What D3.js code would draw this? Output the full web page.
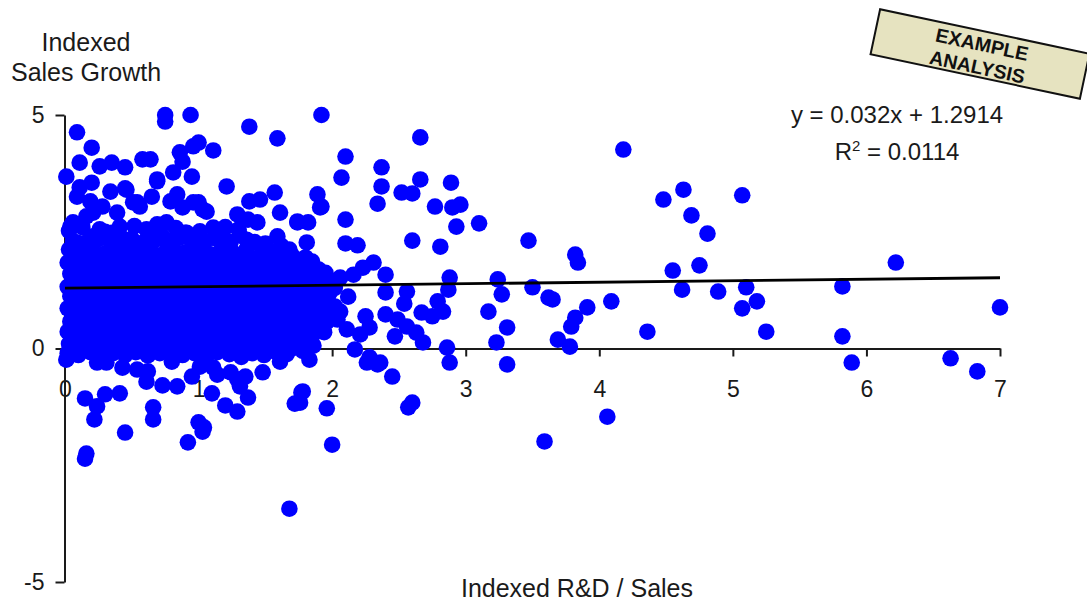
<!DOCTYPE html>
<html>
<head>
<meta charset="utf-8">
<script src="https://cdn.jsdelivr.net/npm/d3@7"></script>
<style>
  html, body { margin: 0; padding: 0; background: #fff; }
  svg { display: block; font-family: "Liberation Sans", Arial, sans-serif; }
</style>
</head>
<body>
<svg id="chart" width="1087" height="601"></svg>
<script>
// Indexed R&D / Sales (x) versus Indexed Sales Growth (y), one point per firm.

// Dense core of firms with low R&D intensity
const coreFirms = [
  [0.03,2.12],[0.12,2.05],[0.2,2.15],[0.29,2.02],[0.38,2.1],[0.47,2.18],[0.55,2.04],[0.64,2.12],[0.72,2.0],[0.81,2.14],[0.9,2.06],[0.99,2.16],[1.08,2.02],[1.17,2.1],[1.26,2.05],[1.36,2.13],[1.46,1.98],[1.55,2.08],
  [0.02,1.84],[0.1,1.9],[0.19,1.8],[0.27,1.88],[0.36,1.82],[0.45,1.92],[0.53,1.78],[0.62,1.86],[0.71,1.8],[0.79,1.9],[0.88,1.83],[0.97,1.76],[1.05,1.88],[1.14,1.8],[1.23,1.92],[1.31,1.84],[1.4,1.78],[1.49,1.88],[1.58,1.82],[1.67,1.9],[1.76,1.8],[1.85,1.86],
  [0.04,1.6],[0.13,1.55],[0.22,1.65],[0.3,1.58],[0.39,1.62],[0.48,1.54],[0.57,1.66],[0.65,1.6],[0.74,1.52],[0.83,1.63],[0.92,1.57],[1.0,1.66],[1.09,1.55],[1.18,1.62],[1.27,1.52],[1.35,1.64],[1.44,1.58],[1.53,1.5],[1.62,1.62],[1.7,1.55],[1.79,1.64],[1.88,1.56],[1.95,1.62],
  [0.02,1.32],[0.11,1.38],[0.19,1.3],[0.28,1.4],[0.37,1.34],[0.46,1.28],[0.54,1.4],[0.63,1.33],[0.72,1.38],[0.8,1.28],[0.89,1.36],[0.98,1.42],[1.06,1.3],[1.15,1.37],[1.24,1.32],[1.33,1.4],[1.41,1.28],[1.5,1.36],[1.59,1.3],[1.68,1.4],[1.76,1.33],[1.85,1.28],[1.94,1.36],[2.02,1.3],
  [0.04,1.12],[0.12,1.05],[0.21,1.14],[0.3,1.08],[0.38,1.16],[0.47,1.04],[0.56,1.12],[0.65,1.06],[0.73,1.15],[0.82,1.08],[0.91,1.02],[1.0,1.12],[1.08,1.06],[1.17,1.15],[1.26,1.04],[1.35,1.1],[1.43,1.16],[1.52,1.05],[1.61,1.12],[1.7,1.06],[1.78,1.14],[1.87,1.04],[1.96,1.1],
  [0.02,0.86],[0.1,0.82],[0.19,0.9],[0.28,0.8],[0.36,0.88],[0.45,0.84],[0.54,0.92],[0.62,0.8],[0.71,0.86],[0.8,0.9],[0.88,0.78],[0.97,0.86],[1.06,0.82],[1.15,0.9],[1.23,0.8],[1.32,0.87],[1.41,0.83],[1.5,0.9],[1.58,0.79],[1.67,0.86],[1.76,0.82],[1.84,0.9],[1.93,0.8],
  [0.04,0.58],[0.13,0.64],[0.22,0.56],[0.3,0.62],[0.39,0.55],[0.48,0.65],[0.56,0.58],[0.65,0.62],[0.74,0.54],[0.83,0.63],[0.91,0.57],[1.0,0.6],[1.09,0.66],[1.18,0.55],[1.26,0.62],[1.35,0.58],[1.44,0.64],[1.52,0.54],[1.61,0.6],[1.7,0.65],[1.79,0.56],[1.87,0.62],[1.96,0.57],
  [0.02,0.36],[0.11,0.3],[0.2,0.38],[0.28,0.32],[0.37,0.4],[0.46,0.3],[0.54,0.36],[0.63,0.33],[0.72,0.4],[0.8,0.3],[0.89,0.36],[0.98,0.32],[1.07,0.38],[1.15,0.3],[1.24,0.36],[1.33,0.4],[1.41,0.32],[1.5,0.36],[1.59,0.3],[1.68,0.38],[1.76,0.33],[1.85,0.28],[1.94,0.35],
  [0.03,0.1],[0.12,0.06],[0.21,0.14],[0.29,0.08],[0.38,0.12],[0.47,0.04],[0.55,0.11],[0.64,0.07],[0.73,0.14],[0.81,0.05],[0.9,0.1],[0.99,0.13],[1.08,0.04],[1.16,0.1],[1.25,0.08],[1.34,0.14],[1.42,0.05],[1.51,0.1],[1.6,0.12],[1.69,0.04],[1.78,0.1],[1.86,0.06],
  [0.02,-0.1],[0.1,-0.14],[0.19,-0.08],[0.27,-0.16],[0.36,-0.1],[0.45,-0.14],[0.53,-0.08],[0.62,-0.15],[0.71,-0.1],[0.8,-0.06],[0.88,-0.14],[0.97,-0.1],[1.06,-0.16],[1.14,-0.08],[1.23,-0.12],[1.32,-0.18],[1.4,-0.1],[1.49,-0.14],[1.58,-0.08],[1.66,-0.12]
];

// More firms packed between the core rows
const coreFirmsB = [
  [0.06,2.3],[0.15,2.26],[0.25,2.34],[0.34,2.28],[0.43,2.36],[0.52,2.25],[0.68,2.33],[0.77,2.22],[0.86,2.38],[0.95,2.3],[1.13,2.35],[1.22,2.2],[1.31,2.42],[1.42,2.28],[1.62,2.2],
  [0.03,2.52],[0.13,2.6],[0.26,2.55],[0.35,2.48],[0.52,2.62],[0.7,2.5],[0.83,2.58],[1.2,2.6],[1.3,2.55],
  [0.07,1.97],[0.16,2.0],[0.24,1.94],[0.33,1.99],[0.42,1.95],[0.5,2.02],[0.59,1.94],[0.68,1.98],[0.76,1.93],[0.85,2.01],[0.94,1.96],[1.03,1.92],[1.12,2.0],[1.21,1.95],[1.3,1.99],[1.39,1.92],[1.5,2.0],[1.6,1.94],[1.7,1.99],[1.8,1.95],
  [0.07,1.72],[0.15,1.68],[0.24,1.75],[0.33,1.7],[0.41,1.76],[0.5,1.68],[0.59,1.73],[0.67,1.7],[0.76,1.77],[0.85,1.69],[0.94,1.74],[1.02,1.7],[1.11,1.76],[1.2,1.68],[1.28,1.73],[1.37,1.7],[1.46,1.75],[1.55,1.67],[1.63,1.73],[1.72,1.7],[1.81,1.74],[1.9,1.69],
  [0.06,1.47],[0.15,1.44],[0.24,1.5],[0.33,1.46],[0.42,1.48],[0.5,1.43],[0.59,1.5],[0.68,1.46],[0.77,1.44],[0.86,1.5],[0.94,1.46],[1.03,1.49],[1.12,1.43],[1.21,1.48],[1.3,1.45],[1.38,1.5],[1.47,1.44],[1.56,1.48],[1.65,1.45],[1.74,1.5],[1.82,1.44],[1.91,1.48],[1.99,1.45],
  [0.06,1.22],[0.15,1.2],[0.24,1.25],[0.32,1.18],[0.41,1.23],[0.5,1.2],[0.59,1.26],[0.67,1.19],[0.76,1.23],[0.85,1.2],[0.94,1.25],[1.02,1.18],[1.11,1.22],[1.2,1.25],[1.29,1.19],[1.37,1.23],[1.46,1.2],[1.55,1.25],[1.64,1.18],[1.72,1.22],[1.81,1.2],[1.9,1.24],[1.98,1.19],
  [0.06,0.97],[0.15,0.95],[0.23,1.0],[0.32,0.94],[0.41,0.98],[0.5,0.95],[0.58,1.0],[0.67,0.94],[0.76,0.98],[0.85,0.96],[0.93,0.92],[1.02,0.98],[1.11,0.95],[1.19,1.0],[1.28,0.94],[1.37,0.98],[1.46,0.96],[1.54,1.0],[1.63,0.93],[1.72,0.97],[1.8,0.95],[1.89,0.99],[1.98,0.95],
  [0.07,0.72],[0.15,0.7],[0.24,0.75],[0.33,0.69],[0.42,0.73],[0.51,0.7],[0.59,0.76],[0.68,0.69],[0.77,0.72],[0.86,0.7],[0.95,0.75],[1.03,0.68],[1.12,0.73],[1.21,0.71],[1.3,0.75],[1.39,0.7],[1.47,0.73],[1.56,0.69],[1.65,0.74],[1.74,0.71],[1.82,0.75],[1.91,0.69],[2.0,0.72],
  [0.06,0.47],[0.15,0.45],[0.24,0.5],[0.33,0.44],[0.41,0.48],[0.5,0.46],[0.59,0.5],[0.68,0.44],[0.76,0.47],[0.85,0.45],[0.94,0.5],[1.03,0.44],[1.11,0.48],[1.2,0.46],[1.29,0.5],[1.38,0.45],[1.46,0.48],[1.55,0.44],[1.64,0.49],[1.72,0.46],[1.81,0.5],[1.9,0.44],
  [0.07,0.22],[0.16,0.2],[0.25,0.25],[0.33,0.19],[0.42,0.23],[0.51,0.2],[0.6,0.25],[0.68,0.19],[0.77,0.22],[0.86,0.2],[0.95,0.24],[1.03,0.18],[1.12,0.22],[1.21,0.2],[1.3,0.25],[1.38,0.2],[1.47,0.22],[1.56,0.18],[1.64,0.23],[1.73,0.2],[1.82,0.24],
  [0.06,-0.02],[0.15,0.0],[0.24,-0.04],[0.32,0.01],[0.41,-0.03],[0.5,0.0],[0.58,-0.04],[0.67,0.01],[0.76,-0.02],[0.84,0.0],[0.93,-0.03],[1.02,0.01],[1.1,-0.04],[1.19,0.0],[1.28,-0.03],[1.36,0.01],[1.45,-0.02],[1.54,0.0],[1.62,-0.04],[1.7,0.0],[1.78,-0.05]
];

// Low R&D firms with strong growth
const highGrowthFirms = [
  [0.09,4.63],[0.2,4.3],[0.58,4.05],[0.75,5.0],[0.75,4.86],[0.94,5.0],[1.38,4.75],[1.59,4.5],[1.92,5.0],
  [0.11,3.98],[0.01,3.68],[0.26,3.9],[0.35,3.98],[0.45,3.88],[0.11,3.45],[0.2,3.55],[0.34,3.36],[0.45,3.43],
  [0.09,3.25],[0.19,3.15],[0.28,3.04],[0.51,3.13],[0.56,3.04],[0.69,3.62],[0.65,3.25],[0.81,3.77],[0.86,4.2],
  [0.96,4.33],[1.0,4.41],[1.11,4.24],[0.88,4.0],[0.95,3.68],[0.84,3.3],[0.88,3.02],[0.96,3.13],[0.79,3.15],
  [1.0,3.13],[1.06,2.93],[1.21,3.47],[0.64,4.05],[0.69,3.58],[0.04,2.61],[0.16,2.83],[0.39,2.91],[0.21,2.4],
  [0.09,2.27],[0.41,2.61],[0.61,2.55],[0.76,2.7],[0.9,2.48],[1.38,3.15],[1.46,3.19],[1.57,3.34],[1.29,2.87],
  [1.37,2.76],[1.44,2.7],[1.61,2.91],[1.89,3.3],[1.91,3.02],[1.74,2.7],[1.82,2.7],[1.59,2.4],[1.81,2.27],
  [0.69,2.66],[0.73,2.4],[0.91,2.48],[1.01,2.51],[1.11,2.59],[1.18,2.44],[1.36,2.33],[1.68,2.12],[0.46,3.4],
  [0.54,3.13],[1.03,2.98],[0.21,2.91],[0.2,2.38],[0.06,2.7],[1.74,2.72],[1.92,3.04],[0.3,2.5],[0.5,2.35],
  [0.82,2.32],[1.24,2.28],[1.5,2.25],[0.6,2.3],[1.05,2.3],[0.38,2.3]
];

// Low R&D firms with shrinking sales
const decliningFirms = [
  [1.96,-1.28],[2.0,-2.06],[2.57,-1.26],[2.6,-1.16],[2.45,-0.6],[1.78,-0.92],[1.76,-1.16],[0.15,-1.07],
  [0.24,-1.24],[0.3,-0.98],[0.41,-0.96],[0.22,-1.52],[0.45,-1.8],[0.16,-2.25],[0.15,-2.36],[0.66,-1.26],
  [0.66,-1.52],[0.92,-2.01],[1.0,-1.58],[1.04,-1.69],[1.03,-1.78],[1.1,-0.96],[1.2,-1.22],[1.29,-1.35],
  [1.37,-1.05],[1.72,-1.18],[1.77,-0.94],[1.68,-3.43],[0.61,-0.71],[0.73,-0.79],[0.84,-0.81],[0.95,-0.6],
  [1.31,-0.81],[1.35,-0.6],[1.29,-0.66],[1.14,-0.56],[1.48,-0.51],[0.43,-0.41],[0.54,-0.45],[0.62,-0.49],
  [1.61,-0.28],[1.83,-0.24],[0.01,-0.24],[0.24,-0.3],[0.31,-0.3],[0.8,-0.28],[1.01,-0.39],[1.11,-0.41],
  [1.24,-0.51],[2.34,-0.34],[2.26,-0.3]
];

// Firms with above-average R&D intensity
const highRdFirms = [
  [2.66,4.52],[4.18,4.26],[4.48,3.19],[2.1,4.11],[2.37,3.88],[2.07,3.66],[2.37,3.47],[2.66,3.62],[2.89,3.55],
  [2.52,3.34],[2.6,3.32],[2.34,3.1],[2.77,3.04],[2.9,3.02],[2.96,3.08],[2.93,2.61],[3.1,2.68],[2.1,2.76],
  [2.6,2.31],[2.81,2.18],[3.47,2.31],[2.1,2.25],[2.19,2.21],[3.82,2.01],[3.84,1.84],[2.31,1.84],[2.23,1.73],
  [2.06,1.52],[2.16,1.58],[2.4,1.58],[2.88,1.52],[3.24,1.48],[2.4,1.2],[2.56,1.22],[2.87,1.26],[3.27,1.16],
  [3.5,1.31],[3.62,1.09],[3.65,1.05],[4.09,1.01],[2.79,1.01],[2.54,0.96],[2.12,1.11],[2.02,0.9],[3.91,0.88],
  [3.17,0.79],[2.67,0.77],[2.75,0.69],[2.83,0.79],[2.4,0.73],[2.49,0.62],[2.25,0.69],[3.82,0.66],[3.79,0.47],
  [4.36,0.36],[3.31,0.45],[2.56,0.47],[2.28,0.45],[2.11,0.41],[2.21,0.3],[2.47,0.26],[2.63,0.34],[2.68,0.13],
  [3.69,0.19],[3.78,0.04],[3.23,0.13],[2.86,0.02],[2.88,-0.3],[3.31,-0.34],[2.17,-0.02],[2.28,-0.19],[2.36,-0.3],
  [2.06,0.79],[2.04,0.62],
  [4.63,3.4],[4.69,2.85],[4.81,2.46],[5.07,3.28],[4.55,1.67],[4.75,1.78],[4.62,1.26],[4.89,1.22],[5.1,1.31],
  [5.18,1.01],[5.07,0.86],[5.25,0.36],[5.82,1.33],[5.82,0.26],[5.89,-0.3],[6.22,1.84],[6.63,-0.21],[6.83,-0.49],
  [7.0,0.88],[4.06,-1.46],[3.59,-1.99]
];

// Linear trend reported on the chart
const slope = 0.032;
const intercept = 1.2914;
const rSquared = "0.0114";

const xTicks = [0, 1, 2, 3, 4, 5, 6, 7];
const yTicks = [-5, 0, 5];

const svg = d3.select("#chart");
const ink = "#1a1a1a";

const x = d3.scaleLinear().domain([0, 7]).range([65, 1000]);
const y = d3.scaleLinear().domain([-5, 5]).range([582, 115]);

// Axes
const xAxis = svg.append("g")
  .attr("transform", `translate(0,${y(0)})`)
  .call(d3.axisBottom(x).tickValues(xTicks).tickSize(8).tickSizeOuter(0)
    .tickPadding(24).tickFormat(d => String(d)));

const yAxis = svg.append("g")
  .attr("transform", `translate(${x(0) - 0.5},0)`)
  .call(d3.axisLeft(y).tickValues(yTicks).tickSize(9).tickSizeOuter(0)
    .tickPadding(11).tickFormat(d => String(d)));

[xAxis, yAxis].forEach(g => {
  g.selectAll("path.domain").attr("stroke", ink).attr("stroke-width", 2);
  g.selectAll(".tick line").attr("stroke", ink).attr("stroke-width", 2);
  g.selectAll(".tick text")
    .attr("fill", ink)
    .style("font-family", "'Liberation Sans', Arial, sans-serif")
    .style("font-size", "23px");
});

// Firms
const allFirms = [].concat(coreFirms, coreFirmsB, highGrowthFirms, decliningFirms, highRdFirms);
svg.append("g")
  .selectAll("circle")
  .data(allFirms)
  .join("circle")
  .attr("cx", d => x(d[0]))
  .attr("cy", d => y(d[1]))
  .attr("r", 8.3)
  .attr("fill", "#0000ff");

// Trend line
svg.append("line")
  .attr("x1", x(0)).attr("y1", y(intercept))
  .attr("x2", x(7)).attr("y2", y(slope * 7 + intercept))
  .attr("stroke", "#000")
  .attr("stroke-width", 2.8);

// Axis titles
const yTitle = svg.append("text")
  .attr("text-anchor", "middle")
  .attr("fill", ink)
  .style("font-size", "25px");
yTitle.append("tspan").attr("x", 86).attr("y", 51).text("Indexed");
yTitle.append("tspan").attr("x", 86).attr("y", 81).text("Sales Growth");

svg.append("text")
  .attr("x", 577).attr("y", 597)
  .attr("text-anchor", "middle")
  .attr("fill", ink)
  .style("font-size", "25px")
  .text("Indexed R&D / Sales");

// Regression equation
svg.append("text")
  .attr("x", 897).attr("y", 123)
  .attr("text-anchor", "middle")
  .attr("fill", ink)
  .style("font-size", "24px")
  .text(`y = ${slope}x + ${intercept}`);

const r2 = svg.append("text")
  .attr("x", 897).attr("y", 160)
  .attr("text-anchor", "middle")
  .attr("fill", ink)
  .style("font-size", "24px");
r2.append("tspan").text("R");
r2.append("tspan").attr("dy", -9).style("font-size", "15px").text("2");
r2.append("tspan").attr("dy", 9).text(` = ${rSquared}`);

// Stamp
const stamp = svg.append("g")
  .attr("transform", "translate(980,54) rotate(12)");
stamp.append("rect")
  .attr("x", -107).attr("y", -23)
  .attr("width", 214).attr("height", 46)
  .attr("fill", "#e6e3c0")
  .attr("stroke", "#111")
  .attr("stroke-width", 2);
stamp.append("text")
  .attr("x", 0).attr("y", -3)
  .attr("text-anchor", "middle")
  .attr("fill", "#111")
  .style("font-size", "19.5px").style("font-weight", "bold")
  .text("EXAMPLE");
stamp.append("text")
  .attr("x", 0).attr("y", 20)
  .attr("text-anchor", "middle")
  .attr("fill", "#111")
  .style("font-size", "19.5px").style("font-weight", "bold")
  .text("ANALYSIS");
</script>
</body>
</html>
